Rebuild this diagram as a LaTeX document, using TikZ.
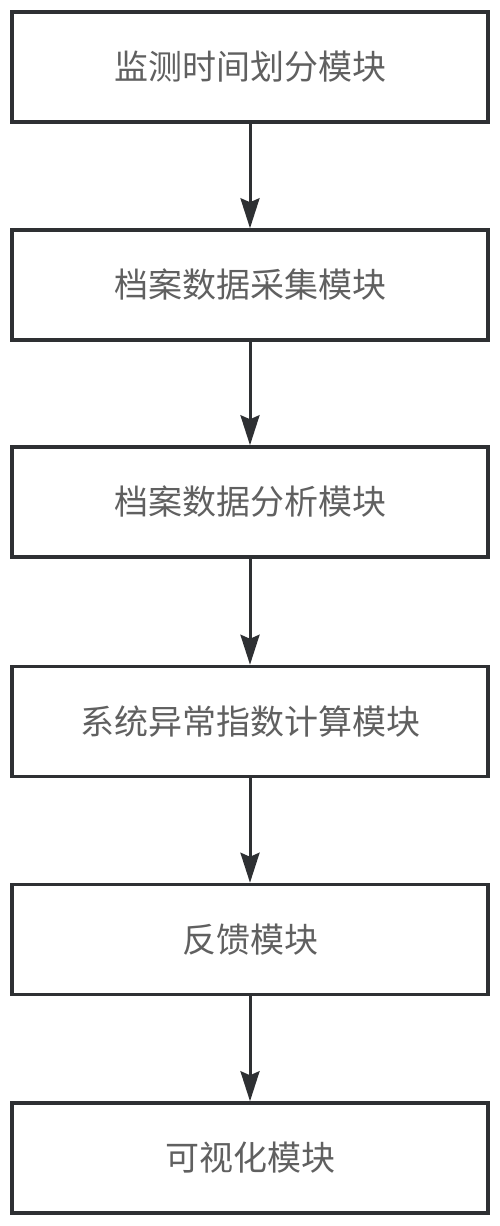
\documentclass[tikz,border=0pt]{standalone}
\usepackage{fontspec}
\newfontfamily\cjk{Noto Sans CJK SC}
\usetikzlibrary{arrows.meta}
\definecolor{linec}{HTML}{2E3033}
\definecolor{textc}{HTML}{606060}
\begin{document}
\begin{tikzpicture}[x=1pt,y=-1pt,
  modbox/.style={draw=linec,line width=3.5pt,minimum width=476pt,minimum height=110pt,
    inner sep=0pt,font=\cjk\fontsize{34}{38}\selectfont,text=textc,fill=white},
  flow/.style={draw=linec,line width=3pt,-{Stealth[length=30pt,width=19pt,inset=4pt]}}]
\useasboundingbox (0,0) rectangle (500,1226);
\node[modbox] (m1) at (250,67) {监测时间划分模块};
\node[modbox] (m2) at (250,285) {档案数据采集模块};
\node[modbox] (m3) at (250,502) {档案数据分析模块};
\node[modbox] (m4) at (250,721.5) {系统异常指数计算模块};
\node[modbox] (m5) at (250,939.5) {反馈模块};
\node[modbox] (m6) at (250,1158) {可视化模块};
\draw[flow] (m1.south) -- (m2.north);
\draw[flow] (m2.south) -- (m3.north);
\draw[flow] (m3.south) -- (m4.north);
\draw[flow] (m4.south) -- (m5.north);
\draw[flow] (m5.south) -- (m6.north);
\end{tikzpicture}
\end{document}
